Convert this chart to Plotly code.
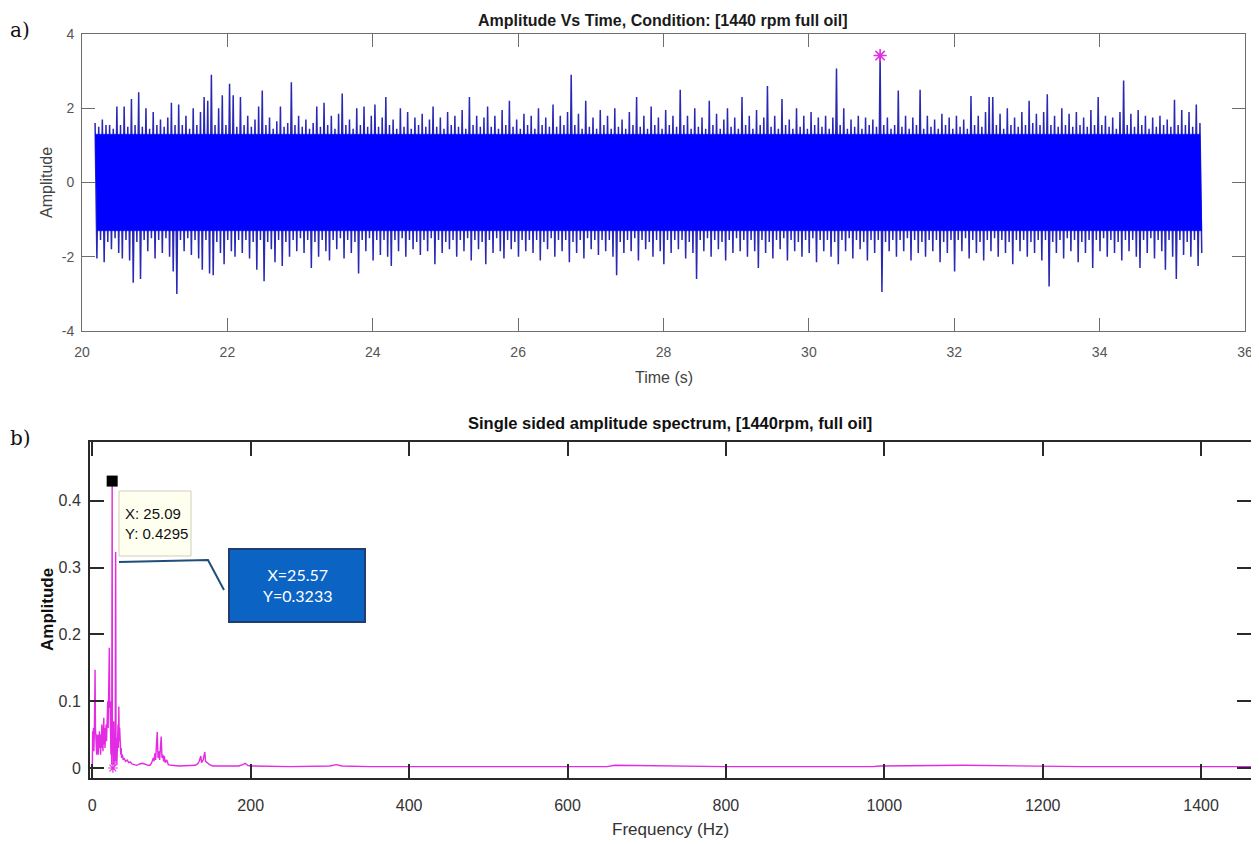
import numpy as np
import plotly.graph_objects as go

# ---------------- data: time signal (local maxima / minima) ----------------
t_start = 20.18
dt = 0.05
upper = [
    1.6, 1.5, 1.7, 1.55, 1.55, 1.45, 2.05, 1.55, 2.05, 1.5, 2.25, 1.55, 2.43, 1.5, 2.0, 1.45, 1.9, 1.55, 1.7, 1.5,
    1.75, 2.15, 1.55, 2.1, 1.55, 1.8, 1.45, 2.0, 1.55, 1.9, 2.3, 2.2, 2.9, 1.55, 2.0, 2.35, 1.55, 2.66, 2.35, 1.5,
    2.3, 1.55, 1.8, 1.5, 1.7, 2.05, 2.48, 1.55, 1.75, 1.45, 1.65, 2.05, 1.5, 1.6, 2.7, 1.55, 1.8, 1.5, 1.7, 1.45,
    1.6, 2.05, 1.5, 2.15, 1.55, 1.8, 1.45, 1.85, 2.4, 1.55, 1.7, 1.45, 2.0, 1.55, 2.05, 1.5, 1.8, 2.1, 1.5, 1.75,
    2.3, 1.55, 1.7, 1.45, 2.0, 1.5, 1.9, 1.45, 1.75, 1.55, 1.85, 1.5, 1.7, 2.05, 1.5, 1.75, 1.45, 1.9, 1.55, 1.8,
    1.5, 1.95, 1.45, 2.3, 1.55, 1.8, 1.5, 1.75, 2.05, 1.5, 1.8, 1.45, 1.95, 1.55, 2.2, 1.5, 1.7, 1.45, 1.85, 1.55,
    1.8, 1.45, 2.0, 1.55, 1.75, 1.5, 2.1, 1.5, 1.8, 1.55, 1.9, 2.9, 1.55, 1.85, 1.45, 2.2, 1.5, 1.75, 1.45, 1.95,
    1.55, 1.8, 1.45, 2.0, 1.5, 1.7, 1.45, 1.9, 1.55, 2.3, 1.5, 1.8, 1.45, 2.05, 1.55, 1.75, 1.45, 1.95, 1.55, 1.8,
    1.5, 2.5, 1.55, 1.8, 1.45, 2.0, 1.5, 1.75, 1.45, 2.2, 1.55, 1.85, 1.45, 1.7, 2.0, 1.5, 1.75, 1.45, 2.3, 1.55,
    1.8, 1.45, 1.95, 1.55, 1.75, 2.6, 1.5, 1.8, 1.45, 2.25, 1.55, 1.7, 1.45, 2.0, 1.5, 1.8, 1.45, 1.9, 1.55, 1.75,
    1.5, 1.8, 1.45, 1.75, 3.07, 1.55, 2.0, 1.45, 1.7, 1.5, 1.8, 1.45, 1.75, 1.55, 1.7, 1.5, 3.42, 1.55, 1.75, 1.45,
    1.55, 2.48, 1.5, 1.8, 1.45, 1.75, 1.55, 2.5, 1.45, 1.8, 1.5, 1.7, 1.45, 1.85, 1.55, 1.75, 1.45, 1.8, 1.5, 1.7,
    1.45, 2.33, 1.55, 1.8, 1.5, 1.9, 2.3, 2.3, 1.55, 1.85, 1.45, 2.0, 1.55, 1.75, 1.5, 1.9, 1.55, 2.2, 1.6, 1.85,
    1.55, 1.9, 2.38, 1.55, 1.8, 1.5, 2.0, 1.55, 1.85, 1.5, 1.9, 1.55, 1.75, 1.5, 1.95, 1.55, 2.3, 1.55, 1.8, 1.5,
    1.75, 1.45, 1.9, 2.75, 1.55, 1.85, 1.5, 1.95, 1.55, 1.8, 1.45, 1.75, 1.5, 1.8, 1.55, 1.7, 1.5, 2.23, 1.55, 1.95,
    1.55, 1.9, 1.5, 2.1, 1.6,
]
lower = [
    -2.05, -1.55, -2.15, -1.6, -1.8, -1.5, -1.9, -2.05, -1.55, -2.1, -2.7, -1.6, -2.6, -1.55, -1.85, -1.5, -2.05, -1.55, -1.9, -1.5,
    -2.0, -2.4, -3.0, -1.55, -1.85, -1.5, -1.95, -1.55, -2.05, -2.35, -1.55, -2.45, -2.5, -1.6, -1.9, -2.2, -1.55, -1.85, -2.0, -1.55,
    -1.9, -1.55, -2.05, -1.6, -2.35, -1.55, -2.66, -1.6, -1.8, -2.15, -1.55, -2.25, -1.6, -2.0, -1.55, -1.85, -1.5, -1.9, -1.55, -2.3,
    -1.6, -2.0, -1.55, -1.85, -2.1, -1.55, -1.8, -1.5, -2.05, -1.55, -1.9, -1.6, -2.45, -1.55, -1.85, -1.5, -2.1, -1.55, -1.95, -1.55,
    -2.0, -2.25, -1.55, -1.85, -1.5, -2.0, -1.55, -1.8, -1.6, -1.95, -1.55, -1.85, -1.5, -2.2, -1.55, -1.9, -1.6, -1.8, -1.55, -2.0,
    -1.55, -1.85, -1.5, -2.1, -1.55, -1.8, -1.6, -2.2, -1.55, -1.9, -1.5, -1.85, -2.05, -1.55, -1.8, -1.6, -2.0, -1.55, -1.85, -1.55,
    -1.9, -1.55, -2.1, -1.6, -1.8, -1.5, -2.0, -1.55, -1.85, -1.55, -2.15, -1.6, -1.9, -1.55, -2.05, -1.5, -1.8, -1.55, -1.95, -1.55,
    -1.85, -1.55, -2.0, -2.5, -1.6, -1.9, -1.55, -1.85, -1.5, -2.1, -1.55, -1.8, -1.6, -2.0, -1.55, -1.85, -2.2, -1.55, -1.9, -1.55,
    -1.8, -1.55, -2.05, -1.6, -1.9, -2.6, -1.55, -1.85, -1.5, -2.0, -1.55, -1.8, -1.6, -2.1, -1.55, -1.9, -1.5, -1.85, -1.55, -2.0,
    -1.55, -1.85, -2.3, -1.55, -1.9, -1.6, -2.05, -1.55, -1.8, -1.5, -2.1, -1.55, -1.85, -1.6, -2.0, -1.55, -1.9, -1.5, -2.15, -1.55,
    -1.85, -1.55, -2.0, -1.6, -2.2, -1.55, -1.85, -1.5, -2.05, -1.55, -1.8, -1.6, -2.1, -1.55, -1.9, -1.55, -2.95, -1.6, -1.85, -1.55,
    -2.0, -1.55, -1.85, -1.5, -2.1, -1.55, -1.9, -1.6, -2.0, -1.55, -1.85, -1.55, -2.15, -1.6, -1.9, -1.55, -2.4, -1.55, -1.85, -1.5,
    -2.05, -1.55, -1.9, -1.6, -2.1, -1.55, -1.85, -1.5, -2.0, -1.55, -1.9, -1.6, -2.2, -1.55, -1.85, -1.55, -2.0, -1.6, -1.9, -1.55,
    -2.1, -1.55, -2.8, -1.6, -1.9, -1.55, -2.05, -1.5, -1.85, -1.55, -2.15, -1.6, -1.9, -1.55, -2.3, -1.55, -1.85, -1.5, -2.0, -1.55,
    -1.9, -1.6, -2.1, -1.55, -1.85, -1.55, -2.0, -2.3, -1.55, -1.9, -1.5, -2.05, -1.55, -1.85, -2.35, -1.55, -2.0, -2.6, -1.55, -1.95,
    -1.6, -2.0, -1.55, -2.25, -1.9,
]

# ---------------- data: single sided amplitude spectrum ----------------
freq = [0.0, 0.5, 1.0, 1.5, 2.0, 2.5, 3.0, 3.5, 4.0, 4.5, 5.0, 5.5, 6.0, 6.5, 7.0, 7.5, 8.0, 8.5, 9.0, 9.5,
        10.0, 10.5, 11.0, 11.5, 12.0, 12.5, 13.0, 13.5, 14.0, 14.5, 15.0, 15.5, 16.0, 16.5, 17.0, 17.5, 18.0, 18.5, 19.0, 19.5,
        20.0, 20.5, 21.0, 21.5, 22.0, 22.5, 23.0, 23.5, 24.0, 24.5, 25.09, 25.4, 26.0, 26.5, 27.0, 27.5, 28.0, 28.5, 29.0, 29.5,
        30.0, 30.5, 31.0, 31.5, 32.0, 32.5, 33.0, 33.5, 34.0, 34.5, 35.0, 35.5, 36.0, 36.5, 37.0, 38.0, 39.0, 40.0,
        42, 44, 46, 48, 50, 53, 56, 60, 63, 66, 70, 73, 75, 77, 78, 79, 80, 81, 82, 83, 84, 85, 86, 87, 88, 89, 90,
        91, 92, 94, 96, 100, 110, 120, 130, 133, 135, 137, 138, 140, 142, 143, 145, 148, 152, 170, 185, 190, 193,
        196, 200, 250, 300, 308, 315, 350, 400, 500, 650, 660, 800, 985, 995, 1100, 1250, 1400, 1470]
amp = [0.0, 0.055, 0.03, 0.06, 0.025, 0.05, 0.09, 0.147, 0.06, 0.03, 0.055, 0.02, 0.05, 0.025, 0.045, 0.02, 0.05, 0.03, 0.055, 0.025,
       0.045, 0.02, 0.05, 0.03, 0.065, 0.03, 0.055, 0.025, 0.06, 0.075, 0.035, 0.06, 0.03, 0.05, 0.035, 0.065, 0.04, 0.08, 0.05, 0.1,
       0.06, 0.13, 0.07, 0.18, 0.09, 0.1, 0.06, 0.02, 0.1, 0.005, 0.4295, 0.02, 0.06, 0.005, 0.07, 0.01, 0.05, 0.003, 0.06, 0.3233,
       0.01, 0.045, 0.004, 0.055, 0.02, 0.065, 0.03, 0.092, 0.04, 0.06, 0.025, 0.04, 0.02, 0.03, 0.015, 0.02, 0.012, 0.015,
       0.01, 0.012, 0.008, 0.009, 0.006, 0.005, 0.004, 0.006, 0.007, 0.006, 0.004, 0.004, 0.008, 0.015, 0.01, 0.022, 0.012, 0.035, 0.054, 0.015, 0.025, 0.012, 0.03, 0.047, 0.015, 0.02, 0.01,
       0.018, 0.008, 0.012, 0.005, 0.004, 0.003, 0.003, 0.004, 0.006, 0.01, 0.018, 0.008, 0.012, 0.024, 0.01, 0.008, 0.005, 0.003, 0.003, 0.003, 0.005, 0.007,
       0.004, 0.003, 0.002, 0.003, 0.005, 0.003, 0.002, 0.002, 0.002, 0.002, 0.004, 0.002, 0.002, 0.003, 0.004, 0.002, 0.002, 0.002, 0.002]

tip_x, tip_y = 25.09, 0.4295          # data cursor
spec_star_f, spec_star_a = [26.0], [0.0]

time_ticks = [20, 22, 24, 26, 28, 30, 32, 34, 36]
amp_ticks = [-4, -2, 0, 2, 4]
amp_ticktext = ["-4", "-2", "0", "2", "4"]
freq_ticks = [0, 200, 400, 600, 800, 1000, 1200, 1400]
spec_ticks = [0, 0.1, 0.2, 0.3, 0.4]
spec_ticktext = ["0", "0.1", "0.2", "0.3", "0.4"]

# page body has an 8px margin: the figure is sized / positioned to compensate
OFF = 8
W, H = 1259 - OFF, 844 - OFF
def px(x): return (x - OFF) / W
def py(y): return 1 - (y - OFF) / H

fig = go.Figure()

t_up = [t_start + dt * i for i in range(len(upper))]
t_lo = [t_start + dt * (i + 0.5) for i in range(len(lower))]

# the oscillating signal, as its sequence of local extremes (max, min, max, min, ...)
sig_t, sig_y = [], []
for i in range(len(upper)):
    sig_t += [t_up[i], t_lo[i]]
    sig_y += [upper[i], lower[i]]
fig.add_trace(go.Scatter(x=sig_t, y=sig_y, mode="lines", line=dict(color="#2828b4", width=1.5),
                         xaxis="x", yaxis="y", hoverinfo="skip", showlegend=False))
# solid dense core of the signal
core = 1.3
core_up = [min(v, core) for v in upper]
core_lo = [max(v, -core) for v in lower]
fig.add_trace(go.Scatter(x=t_up + t_lo[::-1], y=core_up + core_lo[::-1], mode="lines", fill="toself",
                         fillcolor="#0000FF", line=dict(color="#0000FF", width=0.5),
                         xaxis="x", yaxis="y", hoverinfo="skip", showlegend=False))
imax = int(np.argmax(upper))
fig.add_trace(go.Scatter(x=[t_up[imax]], y=[upper[imax]], mode="markers", xaxis="x", yaxis="y",
                         marker=dict(symbol="asterisk", size=11, color="#E030E0",
                                     line=dict(color="#E030E0", width=1.6)),
                         showlegend=False, hoverinfo="skip"))

fig.add_trace(go.Scatter(x=freq, y=amp, mode="lines", xaxis="x2", yaxis="y2",
                         line=dict(color="#E22BE2", width=1.4), showlegend=False, hoverinfo="skip"))
fig.add_trace(go.Scatter(x=spec_star_f, y=spec_star_a, mode="markers", xaxis="x2", yaxis="y2",
                         marker=dict(symbol="asterisk", size=8, color="#E030E0",
                                     line=dict(color="#E030E0", width=1.2)),
                         showlegend=False, hoverinfo="skip"))
fig.add_trace(go.Scatter(x=[tip_x], y=[tip_y], mode="markers", xaxis="x2", yaxis="y2",
                         marker=dict(symbol="square", size=11, color="black"),
                         showlegend=False, hoverinfo="skip"))

ax_top = dict(showline=True, linecolor="#6e6e6e", linewidth=1, mirror="ticks", ticks="inside",
              ticklen=13, tickcolor="#6e6e6e", tickwidth=1, showgrid=False, zeroline=False,
              tickfont=dict(family="Liberation Sans, Arial", size=14, color="#555555"))
ax_bot = dict(showline=True, linecolor="#2a2a2a", linewidth=2, mirror="ticks", ticks="inside",
              ticklen=14, tickcolor="#2a2a2a", tickwidth=2, showgrid=False, zeroline=False,
              tickfont=dict(family="Liberation Sans Narrow, Liberation Sans, Arial", size=16, color="#333333"))

fig.update_layout(
    width=W, height=H, margin=dict(l=0, r=0, t=0, b=0, autoexpand=False),
    paper_bgcolor="white", plot_bgcolor="white", showlegend=False,
    xaxis=dict(ax_top, domain=[px(82), px(1245)], range=[20, 36], tickvals=time_ticks,
               anchor="y", ticklabelstandoff=8),
    yaxis=dict(ax_top, domain=[py(331), py(34)], range=[-4, 4], tickvals=amp_ticks,
               ticktext=amp_ticktext, anchor="x", ticklabelstandoff=4),
    xaxis2=dict(ax_bot, domain=[px(90), px(1251)], range=[-2.9, 1463], tickvals=freq_ticks,
                anchor="y2", ticklabelstandoff=12),
    yaxis2=dict(ax_bot, domain=[py(778), py(442)], range=[-0.015, 0.488], tickvals=spec_ticks,
                ticktext=spec_ticktext, anchor="x2", ticklabelstandoff=4),
)

ann = []
def txt(x, y, s, size, color="#222222", family="Liberation Sans, Arial", bold=False, angle=0,
        xanchor="center"):
    ann.append(dict(x=px(x), y=py(y), xref="paper", yref="paper", text=("<b>%s</b>" % s) if bold else s,
                    showarrow=False, textangle=angle, xanchor=xanchor, yanchor="middle",
                    font=dict(size=size, color=color, family=family)))

txt(20, 30, "a)", 20, color="#111111", family="DejaVu Serif, Liberation Serif")
txt(20, 438, "b)", 20, color="#111111", family="DejaVu Serif, Liberation Serif")
txt(663, 21, "Amplitude Vs Time, Condition: [1440 rpm full oil]", 16, color="#1a1a1a", bold=True)
txt(664, 377, "Time (s)", 16, color="#444444")
txt(47, 183, "Amplitude", 16, color="#444444", angle=-90)
txt(670, 423, "Single sided amplitude spectrum, [1440rpm, full oil]", 16.5, color="#111111",
    family="Liberation Sans Narrow, Liberation Sans, Arial", bold=True)
txt(670, 829, "Frequency (Hz)", 17, color="#333333", family="Liberation Sans Narrow, Liberation Sans, Arial")
txt(47, 610, "Amplitude", 17, color="#111111", family="Liberation Sans Narrow, Liberation Sans, Arial",
    bold=True, angle=-90)

# data tip box text
ann.append(dict(x=px(123), y=py(523), xref="paper", yref="paper", xanchor="left", yanchor="middle",
                align="left", showarrow=False, text="X: 25.09<br>Y: 0.4295",
                font=dict(size=15, color="#111111", family="Liberation Sans Narrow, Liberation Sans, Arial")))
# blue callout text
ann.append(dict(x=px(297), y=py(585), xref="paper", yref="paper", xanchor="center", yanchor="middle",
                align="center", showarrow=False, text="X=25.57<br>Y=0.3233",
                font=dict(size=16, color="white", family="Lato, Open Sans")))
fig.update_layout(annotations=ann)

shapes = [
    dict(type="rect", xref="paper", yref="paper", x0=px(119), x1=px(191), y0=py(556), y1=py(491),
         fillcolor="#FFFFF0", line=dict(color="#cfcfb8", width=1), layer="above"),
    dict(type="path", xref="paper", yref="paper",
         path="M %f %f L %f %f L %f %f" % (px(119), py(562), px(208), py(560), px(224), py(590)),
         line=dict(color="#1F4E79", width=2)),
    dict(type="rect", xref="paper", yref="paper", x0=px(229), x1=px(365), y0=py(622), y1=py(549),
         fillcolor="#0B63C4", line=dict(color="#1F3D6E", width=2), layer="above"),
]
fig.update_layout(shapes=shapes)

fig.write_html("out.html")
